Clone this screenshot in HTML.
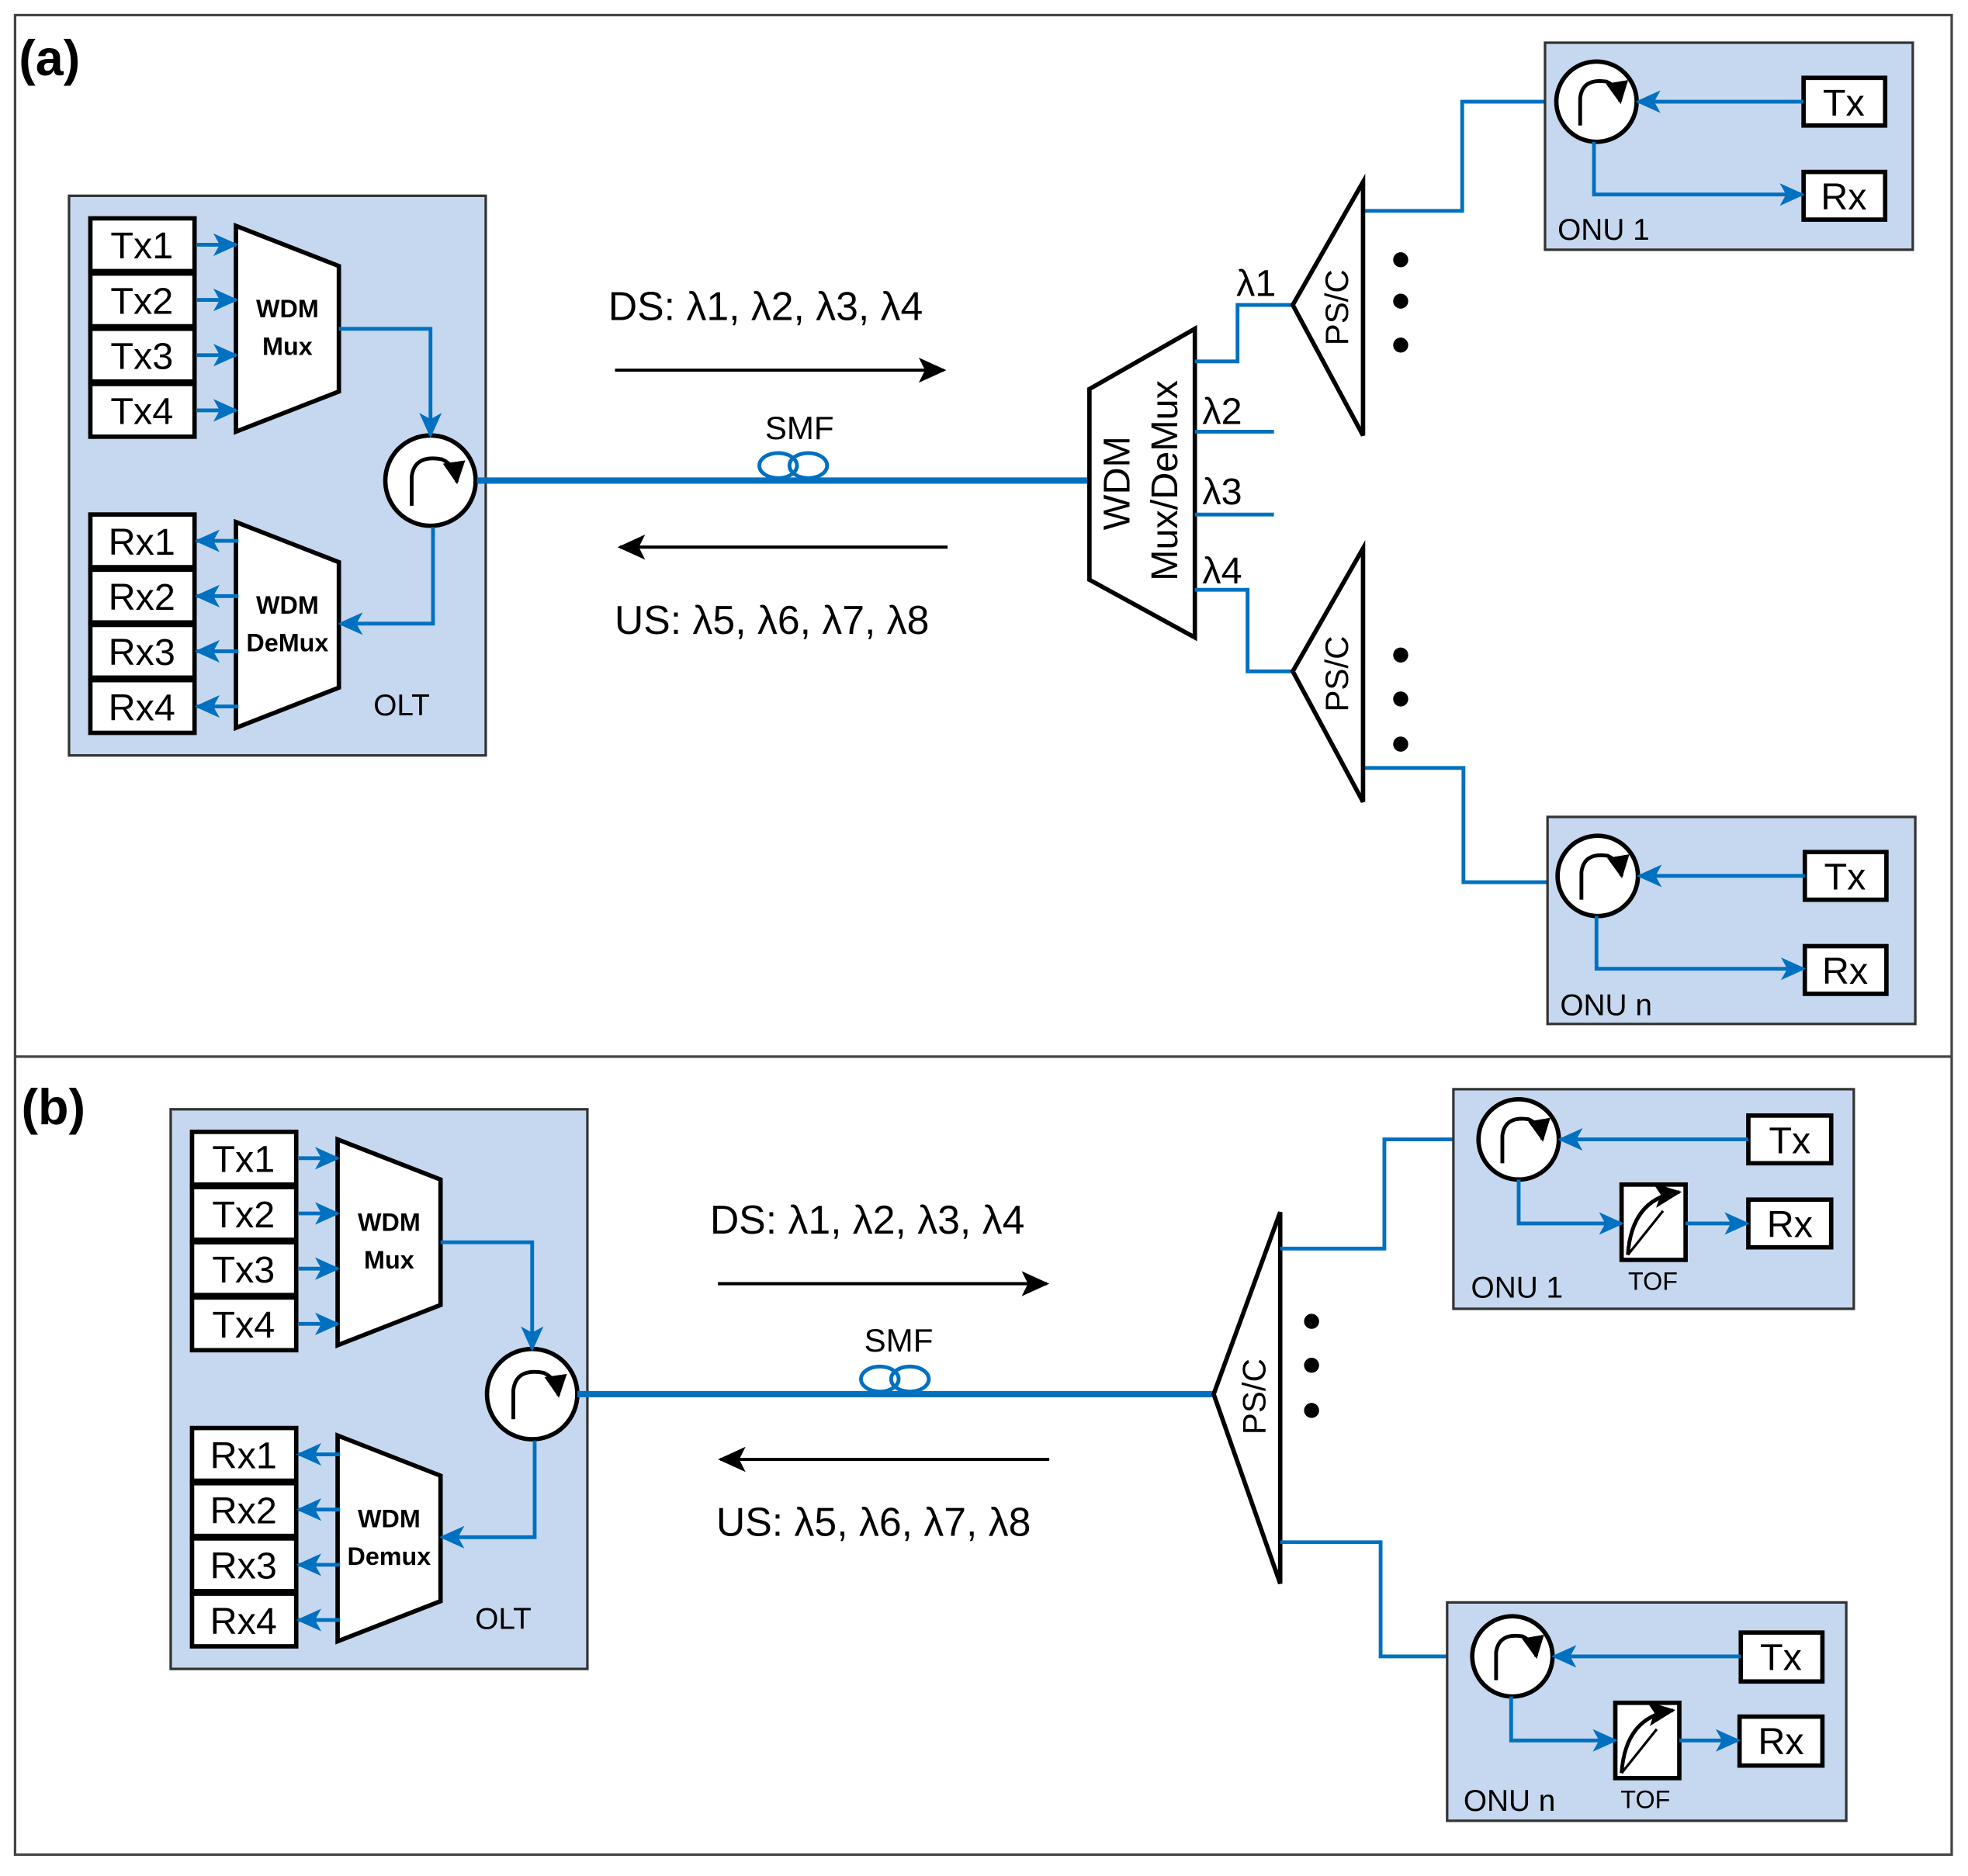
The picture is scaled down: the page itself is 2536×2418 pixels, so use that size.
<!DOCTYPE html>
<html><head><meta charset="utf-8"><style>html,body{margin:0;padding:0;background:#fff}svg{display:block}</style></head>
<body>
<svg width="2536" height="2418" viewBox="0 0 1568 1495" xmlns="http://www.w3.org/2000/svg" font-family="Liberation Sans, sans-serif">
<defs>
<marker id="bb" markerWidth="20" markerHeight="18" refX="18" refY="9" orient="auto" markerUnits="userSpaceOnUse" viewBox="0 0 20 18"><path d="M0,0 L20,9 L0,18 L5,9 z" fill="#0070c0"/></marker>
<marker id="kb" markerWidth="22" markerHeight="22" refX="20" refY="11" orient="auto" markerUnits="userSpaceOnUse" viewBox="0 0 22 22"><path d="M0,1 L22,11 L0,21 L5,11 z" fill="#000"/></marker>
<marker id="ck" markerWidth="18" markerHeight="18" refX="16" refY="9" orient="auto" markerUnits="userSpaceOnUse" viewBox="0 0 18 18"><path d="M0,0 L18,9 L0,18 z" fill="#000"/></marker>
<g id="olt">
<rect x="55" y="156" width="332" height="446" fill="#c6d8ef" stroke="#333" stroke-width="2"/>
<g fill="#fff" stroke="#000" stroke-width="3.5">
<rect x="72" y="174" width="83" height="42"/><rect x="72" y="218" width="83" height="42"/><rect x="72" y="262" width="83" height="42"/><rect x="72" y="306" width="83" height="42"/>
<rect x="72" y="410" width="83" height="42"/><rect x="72" y="454" width="83" height="42"/><rect x="72" y="498" width="83" height="42"/><rect x="72" y="542" width="83" height="42"/>
<path d="M188,180 L270,212 L270,312 L188,344 Z"/><path d="M188,416 L270,448 L270,548 L188,580 Z"/>
<circle cx="343" cy="383" r="36"/>
</g>
<path d="M328,403 L328,380 Q330,362 352,366 Q362,370 364,384" fill="none" stroke="#000" stroke-width="3" marker-end="url(#ck)"/>
<g font-size="30" text-anchor="middle">
<text x="113" y="206">Tx1</text><text x="113" y="250">Tx2</text><text x="113" y="294">Tx3</text><text x="113" y="338">Tx4</text>
<text x="113" y="442">Rx1</text><text x="113" y="486">Rx2</text><text x="113" y="530">Rx3</text><text x="113" y="574">Rx4</text>
</g>
<g font-size="20" font-weight="bold" text-anchor="middle"><text x="229" y="253">WDM</text><text x="229" y="283">Mux</text><text x="229" y="489">WDM</text></g>
<text x="320" y="570" font-size="24" text-anchor="middle">OLT</text>
<g stroke="#0070c0" stroke-width="3" fill="none">
<line x1="157" y1="195" x2="188" y2="195" marker-end="url(#bb)"/><line x1="157" y1="239" x2="188" y2="239" marker-end="url(#bb)"/>
<line x1="157" y1="283" x2="188" y2="283" marker-end="url(#bb)"/><line x1="157" y1="327" x2="188" y2="327" marker-end="url(#bb)"/>
<line x1="190" y1="431" x2="157" y2="431" marker-end="url(#bb)"/><line x1="190" y1="475" x2="157" y2="475" marker-end="url(#bb)"/>
<line x1="190" y1="519" x2="157" y2="519" marker-end="url(#bb)"/><line x1="190" y1="563" x2="157" y2="563" marker-end="url(#bb)"/>
<path d="M270,262 L343,262 L343,347" marker-end="url(#bb)"/>
<path d="M345,420 L345,497 L271,497" marker-end="url(#bb)"/>
</g>
</g>
</defs>
<rect x="12" y="12" width="1543" height="1466" fill="#fff" stroke="#444" stroke-width="2"/>
<line x1="12" y1="842" x2="1555" y2="842" stroke="#444" stroke-width="2"/>
<text x="15" y="60" font-size="40" font-weight="bold">(a)</text>
<text x="17" y="896" font-size="40" font-weight="bold">(b)</text>

<!-- Panel a -->
<use href="#olt"/>
<text x="229" y="519" font-size="20" font-weight="bold" text-anchor="middle">DeMux</text>
<line x1="380" y1="383" x2="868" y2="383" stroke="#0070c0" stroke-width="5"/>
<g fill="none" stroke="#0070c0" stroke-width="3"><ellipse cx="620" cy="371" rx="15" ry="10"/><ellipse cx="644" cy="371" rx="15" ry="10"/></g>
<text x="637" y="350" font-size="26" text-anchor="middle">SMF</text>
<text x="610" y="255" font-size="32" text-anchor="middle">DS: λ1, λ2, λ3, λ4</text>
<line x1="490" y1="295" x2="752" y2="295" stroke="#000" stroke-width="2.5" marker-end="url(#kb)"/>
<line x1="755" y1="436" x2="494" y2="436" stroke="#000" stroke-width="2.5" marker-end="url(#kb)"/>
<text x="615" y="505" font-size="32" text-anchor="middle">US: λ5, λ6, λ7, λ8</text>

<path d="M868,310 L952,262 L952,508 L868,462 Z" fill="#fff" stroke="#000" stroke-width="3.5"/>
<text transform="translate(900,385) rotate(-90)" font-size="30" text-anchor="middle">WDM</text>
<text transform="translate(938,383) rotate(-90)" font-size="30" text-anchor="middle">Mux/DeMux</text>
<g stroke="#0070c0" stroke-width="3" fill="none">
<path d="M952,288 L986,288 L986,243 L1030,243"/><path d="M952,344 L1015,344"/><path d="M952,410 L1015,410"/><path d="M952,470 L994,470 L994,535 L1030,535"/>
<path d="M1086,168 L1165,168 L1165,81 L1240,81"/><path d="M1086,612 L1166,612 L1166,703 L1241,703"/>
</g>
<g font-size="30"><text x="985" y="236">λ1</text><text x="958" y="338">λ2</text><text x="958" y="402">λ3</text><text x="958" y="465">λ4</text></g>
<g fill="#fff" stroke="#000" stroke-width="3.5"><path d="M1030,243 L1086,145 L1086,347 Z"/><path d="M1030,535 L1086,437 L1086,639 Z"/></g>
<text transform="translate(1074,245) rotate(-90)" font-size="26" text-anchor="middle">PS/C</text>
<text transform="translate(1074,537) rotate(-90)" font-size="26" text-anchor="middle">PS/C</text>
<g fill="#000"><circle cx="1116" cy="207" r="6"/><circle cx="1116" cy="240" r="6"/><circle cx="1116" cy="275" r="6"/><circle cx="1116" cy="522" r="6"/><circle cx="1116" cy="557" r="6"/><circle cx="1116" cy="593" r="6"/></g>

<!-- ONU 1 a -->
<rect x="1231" y="34" width="293" height="165" fill="#c6d8ef" stroke="#333" stroke-width="2"/>
<g fill="#fff" stroke="#000" stroke-width="3.5"><circle cx="1272" cy="81" r="32"/><rect x="1437" y="62" width="65" height="38"/><rect x="1437" y="137" width="65" height="38"/></g>
<path d="M1259,100 L1259,78 Q1261,62 1280,65 Q1289,69 1291,81" fill="none" stroke="#000" stroke-width="3" marker-end="url(#ck)"/>
<g font-size="30" text-anchor="middle"><text x="1469" y="92">Tx</text><text x="1469" y="167">Rx</text></g>
<text x="1241" y="191" font-size="24">ONU 1</text>
<g stroke="#0070c0" stroke-width="3" fill="none"><line x1="1437" y1="81" x2="1305" y2="81" marker-end="url(#bb)"/><path d="M1270,113 L1270,155 L1436,155" marker-end="url(#bb)"/></g>
<!-- ONU n a -->
<rect x="1233" y="651" width="293" height="165" fill="#c6d8ef" stroke="#333" stroke-width="2"/>
<g fill="#fff" stroke="#000" stroke-width="3.5"><circle cx="1273" cy="698" r="32"/><rect x="1438" y="679" width="65" height="38"/><rect x="1438" y="754" width="65" height="38"/></g>
<path d="M1260,717 L1260,695 Q1262,679 1281,682 Q1290,686 1292,698" fill="none" stroke="#000" stroke-width="3" marker-end="url(#ck)"/>
<g font-size="30" text-anchor="middle"><text x="1470" y="709">Tx</text><text x="1470" y="784">Rx</text></g>
<text x="1243" y="809" font-size="24">ONU n</text>
<g stroke="#0070c0" stroke-width="3" fill="none"><line x1="1438" y1="698" x2="1306" y2="698" marker-end="url(#bb)"/><path d="M1272,730 L1272,772 L1437,772" marker-end="url(#bb)"/></g>

<!-- Panel b -->
<g transform="translate(81,728)"><use href="#olt"/></g>
<text x="310" y="1247" font-size="20" font-weight="bold" text-anchor="middle">Demux</text>
<line x1="460" y1="1111" x2="967" y2="1111" stroke="#0070c0" stroke-width="5"/>
<g fill="none" stroke="#0070c0" stroke-width="3"><ellipse cx="701" cy="1099" rx="15" ry="10"/><ellipse cx="725" cy="1099" rx="15" ry="10"/></g>
<text x="716" y="1077" font-size="26" text-anchor="middle">SMF</text>
<text x="691" y="983" font-size="32" text-anchor="middle">DS: λ1, λ2, λ3, λ4</text>
<line x1="572" y1="1023" x2="834" y2="1023" stroke="#000" stroke-width="2.5" marker-end="url(#kb)"/>
<line x1="836" y1="1163" x2="574" y2="1163" stroke="#000" stroke-width="2.5" marker-end="url(#kb)"/>
<text x="696" y="1224" font-size="32" text-anchor="middle">US: λ5, λ6, λ7, λ8</text>
<path d="M967,1111 L1020,966 L1020,1262 Z" fill="#fff" stroke="#000" stroke-width="3.5"/>
<text transform="translate(1008,1113) rotate(-90)" font-size="26" text-anchor="middle">PS/C</text>
<g fill="#000"><circle cx="1045" cy="1053" r="6"/><circle cx="1045" cy="1088" r="6"/><circle cx="1045" cy="1124" r="6"/></g>
<g stroke="#0070c0" stroke-width="3" fill="none"><path d="M1020,995 L1103,995 L1103,908 L1178,908"/><path d="M1020,1229 L1100,1229 L1100,1320 L1173,1320"/></g>

<!-- ONU 1 b -->
<rect x="1158" y="868" width="319" height="175" fill="#c6d8ef" stroke="#333" stroke-width="2"/>
<g fill="#fff" stroke="#000" stroke-width="3.5"><circle cx="1210" cy="908" r="32"/><rect x="1393" y="889" width="66" height="38"/><rect x="1393" y="956" width="66" height="38"/><rect x="1292" y="944" width="51" height="60"/></g>
<path d="M1197,927 L1197,905 Q1199,889 1218,892 Q1227,896 1229,908" fill="none" stroke="#000" stroke-width="3" marker-end="url(#ck)"/>
<path d="M1297,1000 Q1300,955 1338,950" fill="none" stroke="#000" stroke-width="3" marker-end="url(#kb)"/>
<path d="M1297,1000 L1325,965" stroke="#000" stroke-width="2"/>
<g font-size="30" text-anchor="middle"><text x="1426" y="919">Tx</text><text x="1426" y="986">Rx</text></g>
<text x="1172" y="1034" font-size="24">ONU 1</text><text x="1317" y="1028" font-size="20" text-anchor="middle">TOF</text>
<g stroke="#0070c0" stroke-width="3" fill="none"><line x1="1393" y1="908" x2="1243" y2="908" marker-end="url(#bb)"/><path d="M1210,940 L1210,975 L1292,975" marker-end="url(#bb)"/><line x1="1343" y1="975" x2="1392" y2="975" marker-end="url(#bb)"/></g>
<!-- ONU n b -->
<rect x="1153" y="1277" width="318" height="174" fill="#c6d8ef" stroke="#333" stroke-width="2"/>
<g fill="#fff" stroke="#000" stroke-width="3.5"><circle cx="1205" cy="1320" r="32"/><rect x="1387" y="1301" width="65" height="39"/><rect x="1386" y="1368" width="66" height="39"/><rect x="1287" y="1357" width="51" height="60"/></g>
<path d="M1192,1339 L1192,1317 Q1194,1301 1213,1304 Q1222,1308 1224,1320" fill="none" stroke="#000" stroke-width="3" marker-end="url(#ck)"/>
<path d="M1292,1413 Q1295,1368 1333,1363" fill="none" stroke="#000" stroke-width="3" marker-end="url(#kb)"/>
<path d="M1292,1413 L1320,1378" stroke="#000" stroke-width="2"/>
<g font-size="30" text-anchor="middle"><text x="1419" y="1331">Tx</text><text x="1419" y="1398">Rx</text></g>
<text x="1166" y="1443" font-size="24">ONU n</text><text x="1311" y="1441" font-size="20" text-anchor="middle">TOF</text>
<g stroke="#0070c0" stroke-width="3" fill="none"><line x1="1387" y1="1320" x2="1238" y2="1320" marker-end="url(#bb)"/><path d="M1204,1352 L1204,1387 L1287,1387" marker-end="url(#bb)"/><line x1="1338" y1="1387" x2="1385" y2="1387" marker-end="url(#bb)"/></g>
</svg>
</body></html>
